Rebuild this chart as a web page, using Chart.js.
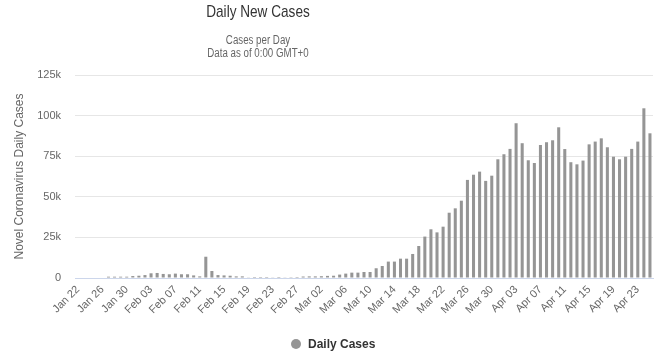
<!DOCTYPE html>
<html><head><meta charset="utf-8">
<script src="https://cdn.jsdelivr.net/npm/chart.js@4"></script>
<style>html,body{margin:0;padding:0;background:#fff}#wrap{width:669px;height:357px}</style>
</head><body><div id="wrap"><canvas id="c" width="669" height="357"></canvas></div>
<script>
const categories = [
 'Jan 22','Jan 23','Jan 24','Jan 25','Jan 26','Jan 27','Jan 28','Jan 29','Jan 30','Jan 31',
 'Feb 01','Feb 02','Feb 03','Feb 04','Feb 05','Feb 06','Feb 07','Feb 08','Feb 09','Feb 10',
 'Feb 11','Feb 12','Feb 13','Feb 14','Feb 15','Feb 16','Feb 17','Feb 18','Feb 19','Feb 20',
 'Feb 21','Feb 22','Feb 23','Feb 24','Feb 25','Feb 26','Feb 27','Feb 28','Feb 29',
 'Mar 01','Mar 02','Mar 03','Mar 04','Mar 05','Mar 06','Mar 07','Mar 08','Mar 09','Mar 10',
 'Mar 11','Mar 12','Mar 13','Mar 14','Mar 15','Mar 16','Mar 17','Mar 18','Mar 19','Mar 20',
 'Mar 21','Mar 22','Mar 23','Mar 24','Mar 25','Mar 26','Mar 27','Mar 28','Mar 29','Mar 30','Mar 31',
 'Apr 01','Apr 02','Apr 03','Apr 04','Apr 05','Apr 06','Apr 07','Apr 08','Apr 09','Apr 10',
 'Apr 11','Apr 12','Apr 13','Apr 14','Apr 15','Apr 16','Apr 17','Apr 18','Apr 19','Apr 20',
 'Apr 21','Apr 22','Apr 23','Apr 24','Apr 25'
];
const dailyCases = [
 0,0,0,0,0,800,800,800,800,1200,
 1400,1800,2900,3100,2500,2300,2700,2300,2300,1600,
 1000,13100,4300,1800,1600,1400,1000,1000,200,600,
 600,600,200,600,200,500,600,900,1000,
 1000,1100,1300,1400,2100,2700,3300,3300,3700,3700,
 6000,7400,10100,10100,11900,11900,14800,19700,25500,30000,
 28100,31600,40200,42900,47600,60400,63600,65500,59800,63000,73100,
 76200,79500,95300,83000,72500,70800,81900,83600,84800,92800,
 79400,71300,70000,72300,82300,84000,86000,80500,74700,73100,
 74700,79500,84000,104500,89100
];
const xTickLabels = ['Jan 22','Jan 26','Jan 30','Feb 03','Feb 07','Feb 11','Feb 15','Feb 19','Feb 23','Feb 27',
 'Mar 02','Mar 06','Mar 10','Mar 14','Mar 18','Mar 22','Mar 26','Mar 30','Apr 03','Apr 07','Apr 11','Apr 15','Apr 19','Apr 23'];
const yTickValues = [0,25000,50000,75000,100000,125000];
const yTickLabels = ['0','25k','50k','75k','100k','125k'];
const chartTitle = 'Daily New Cases';
const subtitleLines = ['Cases per Day','Data as of 0:00 GMT+0'];
const yAxisTitle = 'Novel Coronavirus Daily Cases';
const seriesName = 'Daily Cases';

const FONT = '"Liberation Sans", Arial, sans-serif';
const BAR = '#959595';

function narrowText(ctx, text, cx, y, squeeze) {
  ctx.save();
  ctx.translate(cx, y);
  ctx.scale(squeeze, 1);
  ctx.fillText(text, 0, 0);
  ctx.restore();
}

const decor = {
  id: 'decor',
  afterDraw(chart) {
    const ctx = chart.ctx;
    ctx.save();
    ctx.textAlign = 'center';
    ctx.textBaseline = 'alphabetic';
    ctx.fillStyle = '#333333';
    ctx.font = '17px ' + FONT;
    narrowText(ctx, chartTitle, 258, 17, 0.8);
    ctx.fillStyle = '#666666';
    ctx.font = '12px ' + FONT;
    narrowText(ctx, subtitleLines[0], 258, 44, 0.81);
    narrowText(ctx, subtitleLines[1], 258, 57, 0.81);
    ctx.fillStyle = BAR;
    ctx.beginPath();
    ctx.arc(296, 344, 5, 0, Math.PI * 2);
    ctx.fill();
    ctx.fillStyle = '#333333';
    ctx.font = 'bold 12px ' + FONT;
    ctx.textAlign = 'left';
    ctx.fillText(seriesName, 308, 348);
    ctx.restore();
  }
};

new Chart(document.getElementById('c'), {
  type: 'bar',
  data: {
    labels: categories,
    datasets: [{
      label: seriesName,
      data: dailyCases,
      backgroundColor: BAR,
      borderWidth: 0,
      barPercentage: 0.5,
      categoryPercentage: 1.0
    }]
  },
  options: {
    responsive: false,
    animation: false,
    devicePixelRatio: 1,
    layout: { padding: { top: 75, right: 16, left: 0, bottom: 0 } },
    plugins: { legend: { display: false }, tooltip: { enabled: false }, title: { display: false } },
    scales: {
      x: {
        grid: { display: false, drawTicks: false },
        border: { color: '#ccd6eb', width: 1 },
        ticks: {
          autoSkip: false, minRotation: 45, maxRotation: 45, padding: 5,
          color: '#666666', font: { size: 11, family: FONT },
          callback(v, i) { const l = categories[i]; return xTickLabels.includes(l) ? l : ''; }
        },
        afterFit(s) { s.height = 79; }
      },
      y: {
        min: 0, max: 125000,
        afterBuildTicks(s) { s.ticks = yTickValues.map(v => ({ value: v })); },
        grid: { color: '#e6e6e6', drawTicks: false },
        border: { display: false },
        ticks: {
          padding: 14, color: '#666666', font: { size: 11, family: FONT },
          callback(v) { const k = yTickValues.indexOf(v); return k >= 0 ? yTickLabels[k] : ''; }
        },
        title: { display: true, text: yAxisTitle, color: '#666666', font: { size: 12, family: FONT }, padding: { top: 12, bottom: 0 } },
        afterFit(s) { s.width = 75; }
      }
    }
  },
  plugins: [decor]
});
</script></body></html>
